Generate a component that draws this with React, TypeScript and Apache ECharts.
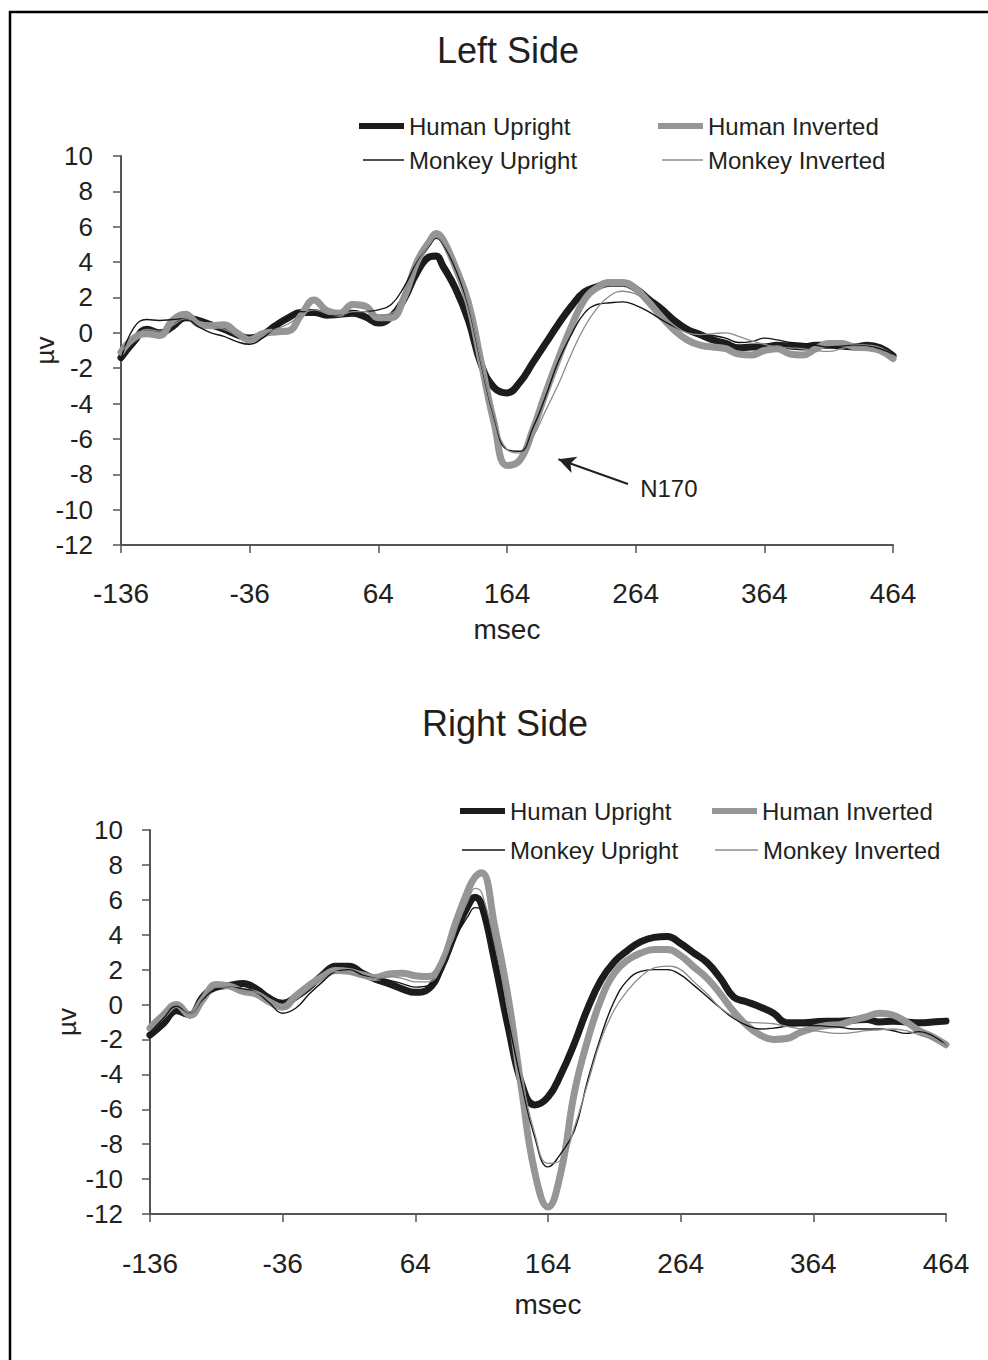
import React, { useEffect, useRef } from "react";
import * as echarts from "echarts";

// ---------- data ----------
const X_START = -136;
const X_TICK_LABELS = ["-136", "-36", "64", "164", "264", "364", "464"];
const Y_MIN = -12;
const Y_MAX = 10;
const Y_STEP = 2;

const TITLES = ["Left Side", "Right Side"];
const SERIES_NAMES = ["Human Upright", "Human Inverted", "Monkey Upright", "Monkey Inverted"];

const TIMES = [
  -136, -126, -116, -106, -96, -86, -76, -66, -56, -46,
  -36, -26, -16, -6, 4, 14, 24, 34, 44, 54,
  64, 74, 84, 94, 104, 109, 114, 124, 134, 144, 154,
  164, 174, 184, 194, 204, 214, 224, 234, 244, 254,
  264, 274, 284, 294, 304, 314, 324, 334, 344, 354,
  364, 374, 384, 394, 404, 414, 424, 434, 444, 454,
  464,
];

// Left side
const LEFT_HUMAN_UPRIGHT = [
  -1.4, -0.5, 0.2, 0.0, 0.35, 0.85, 0.7, 0.45, 0.2, -0.1,
  -0.3, -0.1, 0.4, 0.85, 1.15, 1.15, 1.0, 1.05, 1.1, 0.9,
  0.55, 0.9, 1.9, 3.4, 4.3, 4.35, 3.8, 2.5, 0.7, -1.8, -3.1,
  -3.4, -2.8, -1.7, -0.6, 0.5, 1.5, 2.3, 2.6, 2.8, 2.8,
  2.5, 1.9, 1.35, 0.7, 0.2, -0.1, -0.4, -0.6, -0.85, -0.8,
  -0.8, -0.7, -0.75, -0.8, -0.7, -0.7, -0.75, -0.8, -0.7, -0.85,
  -1.3,
];
const LEFT_HUMAN_INVERTED = [
  -1.1, -0.3, -0.05, -0.15, 0.7, 1.05, 0.5, 0.4, 0.45, 0.0,
  -0.4, -0.05, 0.05, 0.1, 1.0, 1.85, 1.25, 1.1, 1.6, 1.5,
  0.85, 0.85, 2.0, 4.0, 5.2, 5.62, 5.3, 3.7, 1.7, -1.7, -5.1,
  -7.5, -7.2, -5.5, -3.4, -1.45, 0.35, 1.85, 2.55, 2.85, 2.85,
  2.5, 1.75, 0.9, 0.15, -0.4, -0.7, -0.8, -0.9, -1.2, -1.25,
  -1.0, -0.9, -1.2, -1.25, -0.9, -0.6, -0.6, -0.8, -0.85, -1.0,
  -1.45,
];
const LEFT_MONKEY_UPRIGHT = [
  -1.5, 0.3, 0.75, 0.7, 0.75, 0.8, 0.35, 0.0, -0.2, -0.5,
  -0.65, -0.3, 0.3, 0.9, 1.2, 1.1, 0.95, 1.0, 1.1, 1.2,
  1.3, 1.6, 2.6, 4.0, 4.95, 5.35, 5.05, 3.6, 1.5, -1.8, -4.8,
  -6.6, -6.7, -5.4, -3.6, -1.6, -0.1, 1.1, 1.6, 1.7, 1.75,
  1.55, 1.2, 0.75, 0.35, 0.05, -0.05, -0.15, -0.3, -0.55, -0.5,
  -0.3, -0.4, -0.55, -0.6, -0.7, -0.8, -0.75, -0.7, -0.75, -0.9,
  -1.2,
];
const LEFT_MONKEY_INVERTED = [
  -1.1, -0.3, 0.2, 0.1, 0.4, 0.8, 0.6, 0.4, 0.2, -0.1,
  -0.35, -0.1, 0.2, 0.5, 1.0, 1.3, 1.1, 1.0, 1.2, 1.2,
  1.0, 1.1, 2.2, 3.9, 5.0, 5.4, 5.1, 3.8, 1.6, -1.7, -4.7,
  -6.6, -6.8, -5.9, -4.4, -2.9, -1.2, 0.3, 1.4, 2.1, 2.35,
  2.2, 1.7, 1.0, 0.4, 0.0, -0.1, -0.05, 0.0, -0.2, -0.45,
  -0.65, -0.8, -0.85, -0.9, -1.0, -1.05, -0.9, -0.75, -0.8, -1.0,
  -1.35,
];

// Right side
const RIGHT_HUMAN_UPRIGHT = [
  -1.75, -1.1, -0.35, -0.6, 0.45, 1.0, 1.1, 1.2, 0.9, 0.35,
  0.07, 0.45, 1.0, 1.7, 2.2, 2.2, 1.8, 1.45, 1.2, 0.9,
  0.7, 0.9, 2.2, 4.1, 5.7, 6.15, 5.7, 2.4, -1.3, -4.5, -5.75,
  -5.3, -3.95, -2.2, -0.2, 1.4, 2.45, 3.1, 3.6, 3.85, 3.9,
  3.5, 2.95, 2.4, 1.5, 0.43, 0.15, -0.14, -0.5, -1.05, -1.05,
  -1.0, -0.95, -0.95, -0.9, -0.85, -1.0, -0.95, -1.0, -1.05, -1.0,
  -0.95,
];
const RIGHT_HUMAN_INVERTED = [
  -1.35, -0.6, 0.0, -0.6, 0.3, 1.15, 1.05, 0.75, 0.6, 0.15,
  -0.15, 0.5, 1.1, 1.6, 1.95, 1.9, 1.7, 1.55, 1.75, 1.8,
  1.65, 1.6, 2.4, 4.6, 6.6, 7.3, 7.55, 4.4, 0.4, -4.8, -9.6,
  -11.6, -9.5, -5.0, -2.0, 0.3, 1.8, 2.55, 2.95, 3.15, 3.15,
  2.8, 2.15, 1.5, 0.6, -0.4, -1.2, -1.75, -2.0, -1.95, -1.6,
  -1.35, -1.2, -1.15, -0.9, -0.7, -0.5, -0.6, -1.0, -1.5, -1.85,
  -2.3,
];
const RIGHT_MONKEY_UPRIGHT = [
  -1.6, -0.8, -0.1, -0.5, 0.3, 0.9, 1.0, 0.9, 0.7, 0.1,
  -0.5, -0.2, 0.6, 1.3, 1.9, 2.0, 1.7, 1.5, 1.4, 1.2,
  1.0, 1.1, 2.0, 3.8, 5.1, 5.55, 5.4, 2.6, -0.9, -4.5, -7.6,
  -9.3, -8.5, -7.2, -4.3, -1.8, 0.2, 1.4, 1.9, 2.0, 2.0,
  1.7, 1.1, 0.45, -0.2, -0.8, -1.2, -1.4, -1.35, -1.25, -1.2,
  -1.2, -1.25, -1.3, -1.4, -1.4, -1.4, -1.5, -1.65, -1.55, -1.8,
  -2.3,
];
const RIGHT_MONKEY_INVERTED = [
  -1.4, -0.5, 0.0, -0.5, 0.4, 1.0, 1.0, 0.8, 0.7, 0.3,
  -0.2, 0.3, 0.9, 1.5, 1.9, 1.8, 1.6, 1.5, 1.6, 1.5,
  1.3, 1.3, 2.2, 4.2, 6.0, 6.65, 6.4, 3.4, -0.2, -4.1, -7.4,
  -9.1, -8.9, -7.0, -4.5, -2.0, -0.3, 0.8, 1.6, 2.1, 2.2,
  2.0, 1.3, 0.6, -0.2, -0.7, -1.0, -1.05, -1.1, -1.25, -1.4,
  -1.5, -1.6, -1.65, -1.6, -1.5, -1.45, -1.4, -1.5, -1.75, -2.0,
  -2.3,
];

// N170 annotation arrow (msec, µv)
const ARROW_FROM = [258, -8.55];
const ARROW_TO = [204, -7.15];
const ARROW_LABEL = "N170";

// ---------- styling ----------
const FONT = "'Liberation Sans', Arial, Helvetica, sans-serif";
const INK = "#231f20";
const AXIS = "#555555";
const SERIES_STYLE = [
  { color: "#1c1c1c", width: 7, legendH: 6 },
  { color: "#969696", width: 7, legendH: 6 },
  { color: "#151515", width: 1.4, legendH: 1.5 },
  { color: "#8c8c8c", width: 1.3, legendH: 1.5 },
];

const PANELS = [
  {
    grid: { left: 121, top: 156, width: 772, height: 389 },
    title: { x: 508, y: 32 },
    yNameGap: 63,
    xNameGap: 70,
    labelMargin: 28,
    xLabelMargin: 34,
    legend: [
      { left: 359, top: 114, w: 45 },
      { left: 658, top: 114, w: 45 },
      { left: 363, top: 148, w: 41 },
      { left: 662, top: 148, w: 41 },
    ],
    values: [LEFT_HUMAN_UPRIGHT, LEFT_HUMAN_INVERTED, LEFT_MONKEY_UPRIGHT, LEFT_MONKEY_INVERTED],
  },
  {
    grid: { left: 150, top: 830, width: 796, height: 384 },
    title: { x: 505, y: 705 },
    yNameGap: 70,
    xNameGap: 76,
    labelMargin: 27,
    xLabelMargin: 35,
    legend: [
      { left: 460, top: 799, w: 45 },
      { left: 712, top: 799, w: 45 },
      { left: 462, top: 838, w: 43 },
      { left: 715, top: 838, w: 43 },
    ],
    values: [RIGHT_HUMAN_UPRIGHT, RIGHT_HUMAN_INVERTED, RIGHT_MONKEY_UPRIGHT, RIGHT_MONKEY_INVERTED],
  },
];

function buildOption(): any {
  const grids: any[] = [];
  const xAxes: any[] = [];
  const yAxes: any[] = [];
  const titles: any[] = [];
  const legends: any[] = [];
  const series: any[] = [];

  PANELS.forEach((p, gi) => {
    grids.push({ ...p.grid, containLabel: false });
    titles.push({
      text: TITLES[gi],
      left: p.title.x,
      top: p.title.y,
      textAlign: "center",
      padding: 0,
      textStyle: { fontSize: 36, fontWeight: "normal", color: INK, fontFamily: FONT },
    });
    xAxes.push({
      gridIndex: gi,
      type: "value",
      min: 0,
      max: 600,
      interval: 100,
      name: "msec",
      nameLocation: "middle",
      nameGap: p.xNameGap,
      nameMoveOverlap: false,
      nameTextStyle: { fontSize: 28, color: INK, fontFamily: FONT },
      axisLine: { onZero: false, lineStyle: { color: AXIS, width: 2 } },
      axisTick: { show: true, length: 8, lineStyle: { color: AXIS, width: 1.5 } },
      splitLine: { show: false },
      axisLabel: {
        margin: p.xLabelMargin,
        fontSize: 28,
        color: INK,
        fontFamily: FONT,
        formatter: (v: number) => X_TICK_LABELS[Math.round(v / 100)] ?? "",
      },
    });
    yAxes.push({
      gridIndex: gi,
      type: "value",
      min: Y_MIN,
      max: Y_MAX,
      interval: Y_STEP,
      name: "µv",
      nameLocation: "middle",
      nameRotate: 90,
      nameGap: p.yNameGap,
      nameMoveOverlap: false,
      nameTextStyle: { fontSize: 26, color: INK, fontFamily: FONT },
      axisLine: { show: true, lineStyle: { color: AXIS, width: 2 } },
      axisTick: { show: true, length: 8, lineStyle: { color: AXIS, width: 1.5 } },
      splitLine: { show: false },
      axisLabel: { margin: p.labelMargin, fontSize: 26, color: INK, fontFamily: FONT },
    });
    p.legend.forEach((l, li) => {
      const st = SERIES_STYLE[li];
      legends.push({
        data: [SERIES_NAMES[li]],
        left: l.left,
        top: l.top,
        padding: 0,
        icon: "rect",
        itemWidth: l.w,
        itemHeight: st.legendH,
        selectedMode: false,
        itemStyle: { color: st.color, borderWidth: 0 },
        textStyle: { fontSize: 24, color: INK, fontFamily: FONT },
      });
    });
    p.values.forEach((vals, si) => {
      const st = SERIES_STYLE[si];
      const s: any = {
        type: "line",
        name: SERIES_NAMES[si],
        xAxisIndex: gi,
        yAxisIndex: gi,
        data: TIMES.map((t, i) => [t - X_START, vals[i]]),
        symbol: "none",
        showSymbol: false,
        smooth: 0.45,
        silent: true,
        z: 2 + si,
        lineStyle: { color: st.color, width: st.width, cap: "round", join: "round" },
        itemStyle: { color: st.color },
      };
      if (gi === 0 && si === 1) {
        s.markLine = {
          silent: true,
          animation: false,
          symbol: ["none", "arrow"],
          symbolSize: [13, 17],
          lineStyle: { color: INK, width: 2, type: "solid" },
          label: {
            show: true,
            position: "start",
            formatter: ARROW_LABEL,
            distance: 13,
            fontSize: 24,
            color: INK,
            fontFamily: FONT,
          },
          data: [
            [
              { coord: [ARROW_FROM[0] - X_START, ARROW_FROM[1]] },
              { coord: [ARROW_TO[0] - X_START, ARROW_TO[1]] },
            ],
          ],
        };
      }
      series.push(s);
    });
  });

  return {
    animation: false,
    backgroundColor: "#ffffff",
    textStyle: { fontFamily: FONT },
    title: titles,
    legend: legends,
    grid: grids,
    xAxis: xAxes,
    yAxis: yAxes,
    series,
    graphic: [
      {
        type: "rect",
        silent: true,
        shape: { x: 10, y: 12, width: 1000, height: 1400 },
        style: { fill: "none", stroke: "#000000", lineWidth: 2.5 },
        z: 100,
      },
    ],
  };
}

export default function App() {
  const ref = useRef<HTMLDivElement>(null);
  useEffect(() => {
    if (!ref.current) return;
    const chart = echarts.init(ref.current, undefined, { renderer: "svg" });
    chart.setOption(buildOption());
    return () => chart.dispose();
  }, []);
  return (
    <div
      ref={ref}
      style={{ position: "absolute", left: 0, top: 0, width: 988, height: 1360, background: "#fff" }}
    />
  );
}
